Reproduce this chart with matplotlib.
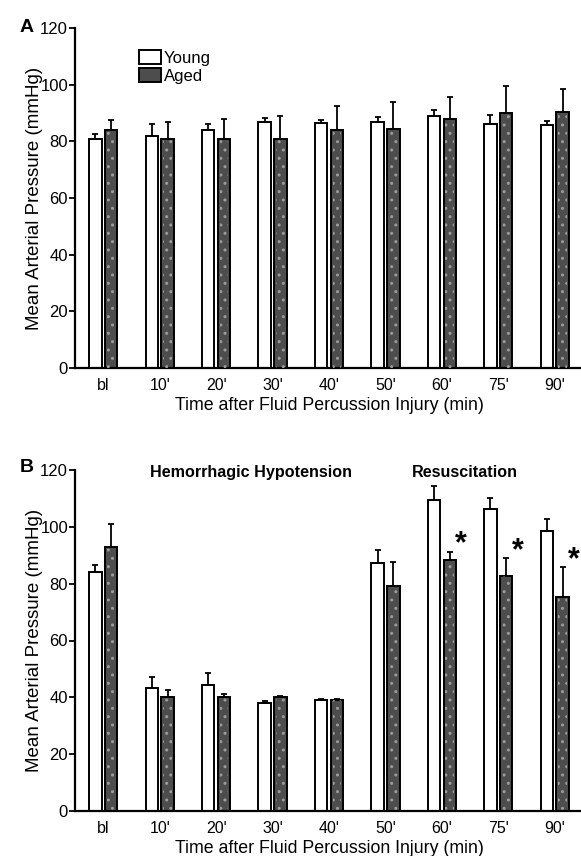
import matplotlib
matplotlib.use("Agg")
import matplotlib.pyplot as plt
import numpy as np

plt.rcParams['font.family'] = ['Liberation Sans', 'DejaVu Sans']

# categories
times = ["bl", "10'", "20'", "30'", "40'", "50'", "60'", "75'", "90'"]

# panel A - fluid percussion injury only
a_young = [81, 82, 84, 87, 86.5, 86.8, 89, 86, 85.8]
a_young_err = [1.5, 4, 2, 1.2, 1.2, 1.7, 2, 3.3, 1.5]
a_aged = [84, 81, 81, 81, 84, 84.5, 88, 90, 90.3]
a_aged_err = [3.5, 6, 7, 8, 8.5, 9.5, 7.5, 9.5, 8]

# panel B - hemorrhagic hypotension and resuscitation
b_young = [84.2, 43.2, 44.5, 38, 39, 87.3, 109.3, 106.1, 98.6]
b_young_err = [2.3, 4, 3.9, 0.8, 0.3, 4.5, 4.9, 4.2, 4]
b_aged = [92.8, 40.1, 40, 40.2, 39, 79.2, 88.3, 82.6, 75.4]
b_aged_err = [8.1, 2.6, 1, 0.4, 0.3, 8.5, 2.9, 6.3, 10.4]
b_signif = [6, 7, 8]

W, H = 581, 856
fig = plt.figure(figsize=(W / 100, H / 100), dpi=100)

def draw_panel(ax, young, young_err, aged, aged_err):
    x = np.arange(len(times))
    w = 0.22
    off = 0.14
    ax.bar(x - off, young, w, color='white', edgecolor='black', linewidth=1.4,
           yerr=[np.zeros(len(x)), young_err], capsize=2.5,
           error_kw=dict(elinewidth=1.3, capthick=1.3), label='Young', zorder=2)
    ax.bar(x + off, aged, w, color='#4d4d4d', edgecolor='black', linewidth=1.4,
           yerr=[np.zeros(len(x)), aged_err], capsize=2.5,
           error_kw=dict(elinewidth=1.3, capthick=1.3), label='Aged', zorder=2)
    # speckled look of the dark bars
    ax.bar(x + off, aged, w * 0.7, color='none', edgecolor='#9a9a9a', hatch='..',
           linewidth=0, zorder=3)
    ax.set_xlim(-0.5, 8.5)
    ax.set_ylim(0, 120)
    ax.set_yticks(range(0, 121, 20))
    ax.set_xticks(x)
    ax.set_xticklabels(times)
    ax.tick_params(axis='x', length=0, pad=7, labelsize=11.5)
    ax.tick_params(axis='y', length=4, width=1.3, labelsize=12, pad=1)
    ax.spines['top'].set_visible(False)
    ax.spines['right'].set_visible(False)
    ax.spines['left'].set_linewidth(1.6)
    ax.spines['bottom'].set_linewidth(1.6)
    ax.set_ylabel('Mean Arterial Pressure (mmHg)', fontsize=13.5, labelpad=-2)
    ax.set_xlabel('Time after Fluid Percussion Injury (min)', fontsize=12.8, labelpad=3)

axA = fig.add_axes([75 / W, 1 - 368 / H, 508 / W, 340 / H])
draw_panel(axA, a_young, a_young_err, a_aged, a_aged_err)
axA.legend(loc='upper left', bbox_to_anchor=(0.113, 0.955), frameon=False,
           fontsize=12, handlelength=1.3, handleheight=0.9, handletextpad=0.2,
           labelspacing=0.15, borderaxespad=0)

axB = fig.add_axes([75 / W, 1 - 811 / H, 508 / W, 341 / H])
draw_panel(axB, b_young, b_young_err, b_aged, b_aged_err)
axB.text(2.62, 119, 'Hemorrhagic Hypotension', ha='center', va='center',
         fontsize=11.6, fontweight='bold')
axB.text(6.41, 119, 'Resuscitation', ha='center', va='center',
         fontsize=11.6, fontweight='bold')
for i in b_signif:
    axB.text(i + 0.34, b_aged[i] + b_aged_err[i] + 2.5, '*', ha='center', va='center',
             fontsize=22, fontweight='bold', clip_on=False)

fig.text(20 / W, 1 - 28 / H, 'A', fontsize=14, fontweight='bold', va='center')
fig.text(20 / W, 1 - 468 / H, 'B', fontsize=14, fontweight='bold', va='center')

fig.savefig('out.png', dpi=100)
